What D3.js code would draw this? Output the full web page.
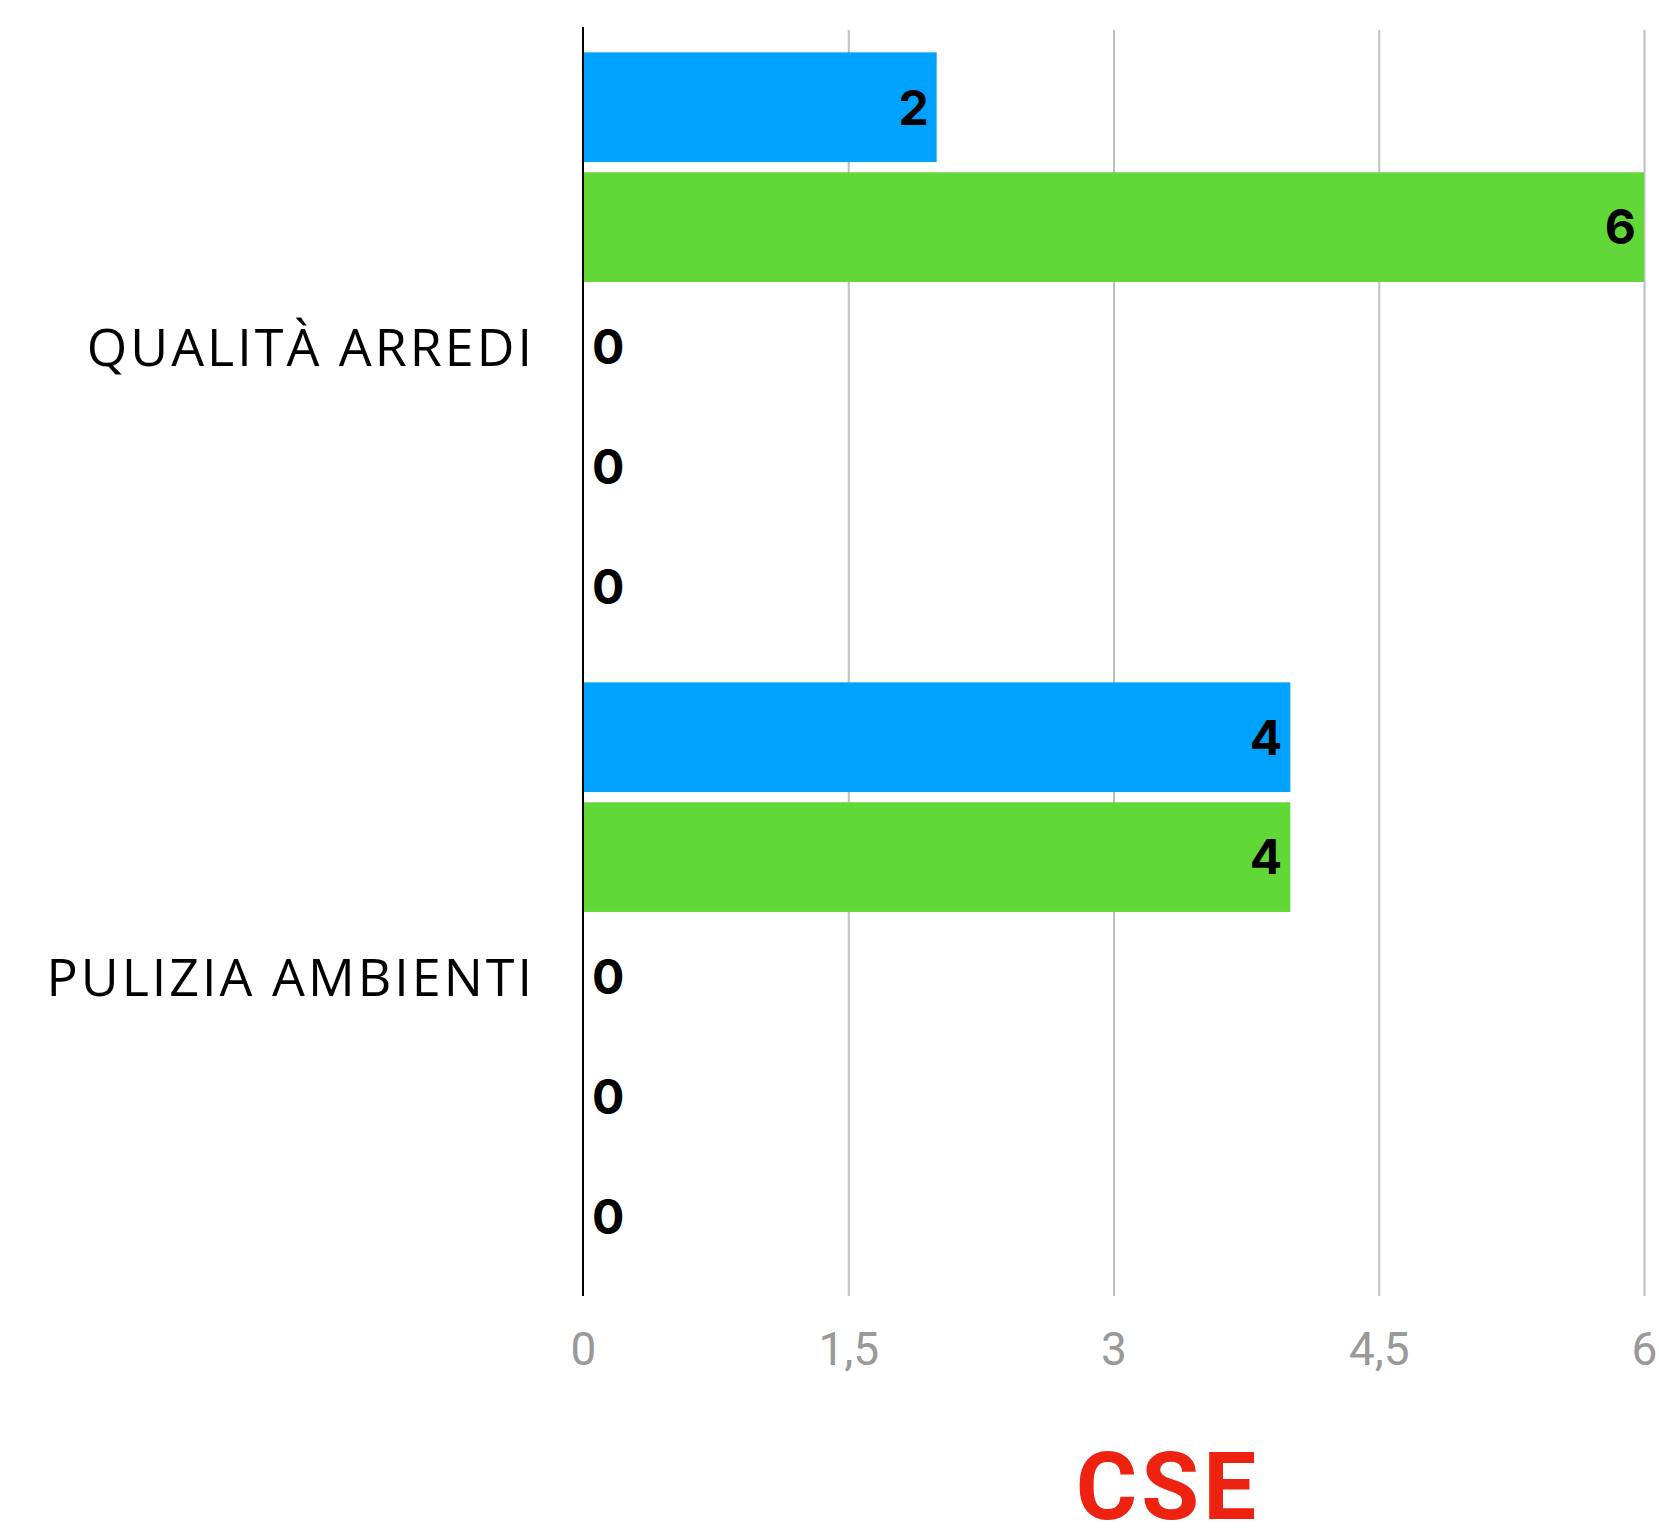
<!DOCTYPE html>
<html>
<head>
<meta charset="utf-8">
<script src="https://cdn.jsdelivr.net/npm/d3@7"></script>
<style>
  body { margin: 0; background: #fff; }
  .tick text { font-family: "Liberation Sans Narrow", "Roboto", sans-serif; }
</style>
</head>
<body>
<div id="chart"></div>
<script>
/***** data *****/
var categories = ["QUALITÀ ARREDI", "PULIZIA AMBIENTI"];
var seriesNames = ["Ottimo", "Buono", "Sufficiente", "Scarso", "Insufficiente"];
var seriesColors = ["#00a2ff", "#62d838", "#ffcc00", "#ff8a00", "#ee2211"];
var qualitaArredi = [2, 6, 0, 0, 0];
var puliziaAmbienti = [4, 4, 0, 0, 0];
var tickValues = [0, 1.5, 3, 4.5, 6];
var chartTitle = "CSE";

var values = [qualitaArredi, puliziaAmbienti];
var data = categories.map(function(c, i) {
  return {name: c, groups: seriesNames.map(function(s, j) { return {name: s, value: values[i][j], idx: j}; })};
});

//chart parameters
var width = 1659;
var height = 1528;
var margin = {top: 32, right: 15, left: 583};
var plotBottom = 1292;   // bottom of the bar bands
var axisBottom = 1296;   // bottom of grid + zero line

var svg = d3.select("#chart")
  .append("svg")
  .attr("width", width)
  .attr("height", height);

// scales
var x = d3.scaleLinear()
  .domain([0, 6])
  .range([margin.left, width - margin.right]);

var y0 = d3.scaleBand()
  .domain(categories)
  .range([margin.top, plotBottom]);

var y1 = d3.scaleBand()
  .domain(seriesNames)
  .range([0, y0.bandwidth()])
  .paddingInner(0.085)
  .paddingOuter(0.17);

// gridlines + tick labels
var xAxis = d3.axisBottom(x)
  .tickValues(tickValues)
  .tickFormat(function(d) { return String(d).replace(".", ","); })
  .tickSizeInner(-(axisBottom - 30))
  .tickSizeOuter(0)
  .tickPadding(36);

var gx = svg.append("g")
  .attr("class", "x axis")
  .attr("transform", "translate(0," + axisBottom + ")")
  .call(xAxis);
gx.select(".domain").remove();
gx.selectAll(".tick line").attr("stroke", "#c0c0c0").attr("stroke-width", 2);
gx.selectAll(".tick text")
  .attr("fill", "#999")
  .style("font-size", "46px");
gx.selectAll(".tick").filter(function(d) { return d === 0; }).select("line").remove();

// bars
var groups = svg.selectAll("g.group")
  .data(data)
  .enter()
  .append("g")
  .attr("class", "group")
  .attr("transform", function(d) { return "translate(0," + y0(d.name) + ")"; });

groups.selectAll("rect")
  .data(function(d) { return d.groups; })
  .enter()
  .append("rect")
  .attr("x", x(0))
  .attr("y", function(d) { return y1(d.name); })
  .attr("width", function(d) { return x(d.value) - x(0); })
  .attr("height", y1.bandwidth())
  .attr("fill", function(d) { return seriesColors[d.idx]; });

// value labels
groups.selectAll("text.val")
  .data(function(d) { return d.groups; })
  .enter()
  .append("text")
  .attr("class", "val")
  .attr("x", function(d) { return d.value > 0 ? x(d.value) - 8 : x(0) + 9; })
  .attr("y", function(d) { return y1(d.name) + y1.bandwidth() / 2; })
  .attr("dy", "0.36em")
  .attr("text-anchor", function(d) { return d.value > 0 ? "end" : "start"; })
  .style("font-family", "Inter, sans-serif")
  .style("font-weight", 700)
  .style("font-size", "48px")
  .attr("fill", "#000")
  .text(function(d) { return d.value; });

// category labels
svg.selectAll("text.cat")
  .data(categories)
  .enter()
  .append("text")
  .attr("class", "cat")
  .attr("x", margin.left - 48)
  .attr("y", function(d) { return y0(d) + y0.bandwidth() / 2; })
  .attr("dy", "0.36em")
  .attr("text-anchor", "end")
  .style("font-family", "'Open Sans', sans-serif")
  .style("font-size", "52px")
  .style("letter-spacing", "3px")
  .attr("fill", "#000")
  .text(function(d) { return d; });

// zero axis line
svg.append("line")
  .attr("x1", x(0)).attr("x2", x(0))
  .attr("y1", 27)
  .attr("y2", axisBottom)
  .attr("stroke", "#000")
  .attr("stroke-width", 2);

// title
svg.append("text")
  .attr("x", 1168)
  .attr("y", 1519)
  .attr("text-anchor", "middle")
  .style("font-family", "Roboto, sans-serif")
  .style("font-weight", 700)
  .style("font-size", "94px")
  .style("letter-spacing", "4px")
  .attr("fill", "#ee2211")
  .text(chartTitle);
</script>
</body>
</html>
